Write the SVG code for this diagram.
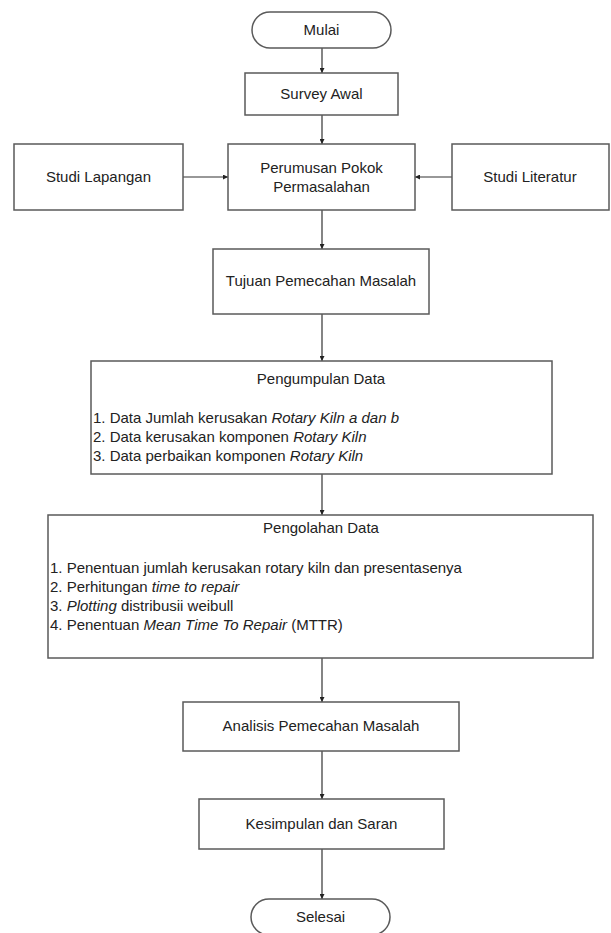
<svg xmlns="http://www.w3.org/2000/svg" width="611" height="933" viewBox="0 0 611 933">
<defs>
<style>
.box{fill:#fff;stroke:#5a5a5a;stroke-width:1.5}
.t{font-family:"Liberation Sans",Arial,sans-serif;font-size:15px;fill:#222}
.c{text-anchor:middle}
.i{font-style:italic}
.ln{stroke:#333;stroke-width:1.2;fill:none;marker-end:url(#ah)}
</style>
<marker id="ah" viewBox="0 0 10 10" refX="10" refY="5" markerWidth="5" markerHeight="5" orient="auto" markerUnits="userSpaceOnUse">
<path d="M0,0 L10,5 L0,10 z" fill="#222"/>
</marker>
</defs>
<rect width="611" height="933" fill="#fff"/>
<g id="connectors">
<line class="ln" x1="322" y1="48" x2="322" y2="73"/>
<line class="ln" x1="322" y1="115" x2="322" y2="144"/>
<line class="ln" x1="183" y1="177" x2="228" y2="177"/>
<line class="ln" x1="452" y1="177" x2="415" y2="177"/>
<line class="ln" x1="322" y1="210" x2="322" y2="249"/>
<line class="ln" x1="322" y1="314" x2="322" y2="361"/>
<line class="ln" x1="322" y1="474" x2="322" y2="515"/>
<line class="ln" x1="322" y1="658" x2="322" y2="702"/>
<line class="ln" x1="322" y1="751" x2="322" y2="799"/>
<line class="ln" x1="322" y1="849" x2="322" y2="899"/>
</g>
<g id="mulai">
<rect class="box" x="252" y="12" width="139" height="36" rx="18" ry="18"/>
<text class="t c" x="321.5" y="35">Mulai</text>
</g>
<g id="survey">
<rect class="box" x="245" y="73" width="153" height="42"/>
<text class="t c" x="321.5" y="99">Survey Awal</text>
</g>
<g id="studi-lapangan">
<rect class="box" x="14" y="144" width="169" height="66"/>
<text class="t c" x="98.5" y="182">Studi Lapangan</text>
</g>
<g id="perumusan">
<rect class="box" x="228" y="144" width="187" height="66"/>
<text class="t c" x="321.5" y="173">Perumusan Pokok</text>
<text class="t c" x="321.5" y="192">Permasalahan</text>
</g>
<g id="studi-literatur">
<rect class="box" x="452" y="144" width="157" height="66"/>
<text class="t c" x="530" y="182">Studi Literatur</text>
</g>
<g id="tujuan">
<rect class="box" x="213" y="249" width="216" height="65"/>
<text class="t c" x="321" y="286">Tujuan Pemecahan Masalah</text>
</g>
<g id="pengumpulan">
<rect class="box" x="91" y="361" width="461" height="113"/>
<text class="t c" x="321" y="384">Pengumpulan Data</text>
<text class="t" x="93" y="423">1. Data Jumlah kerusakan <tspan class="i">Rotary Kiln a dan b</tspan></text>
<text class="t" x="93" y="442">2. Data kerusakan komponen <tspan class="i">Rotary Kiln</tspan></text>
<text class="t" x="93" y="461">3. Data perbaikan komponen <tspan class="i">Rotary Kiln</tspan></text>
</g>
<g id="pengolahan">
<rect class="box" x="48" y="515" width="545" height="143"/>
<text class="t c" x="321" y="533">Pengolahan Data</text>
<text class="t" x="50" y="573">1. Penentuan jumlah kerusakan rotary kiln dan presentasenya</text>
<text class="t" x="50" y="592">2. Perhitungan <tspan class="i">time to repair</tspan></text>
<text class="t" x="50" y="611">3. <tspan class="i">Plotting</tspan> distribusii weibull</text>
<text class="t" x="50" y="630">4. Penentuan <tspan class="i">Mean Time To Repair</tspan> (MTTR)</text>
</g>
<g id="analisis">
<rect class="box" x="183" y="702" width="276" height="49"/>
<text class="t c" x="321" y="731">Analisis Pemecahan Masalah</text>
</g>
<g id="kesimpulan">
<rect class="box" x="199" y="799" width="245" height="50"/>
<text class="t c" x="321.5" y="829">Kesimpulan dan Saran</text>
</g>
<g id="selesai">
<rect class="box" x="251" y="899" width="139" height="36" rx="18" ry="18"/>
<text class="t c" x="320.5" y="922">Selesai</text>
</g>
</svg>
